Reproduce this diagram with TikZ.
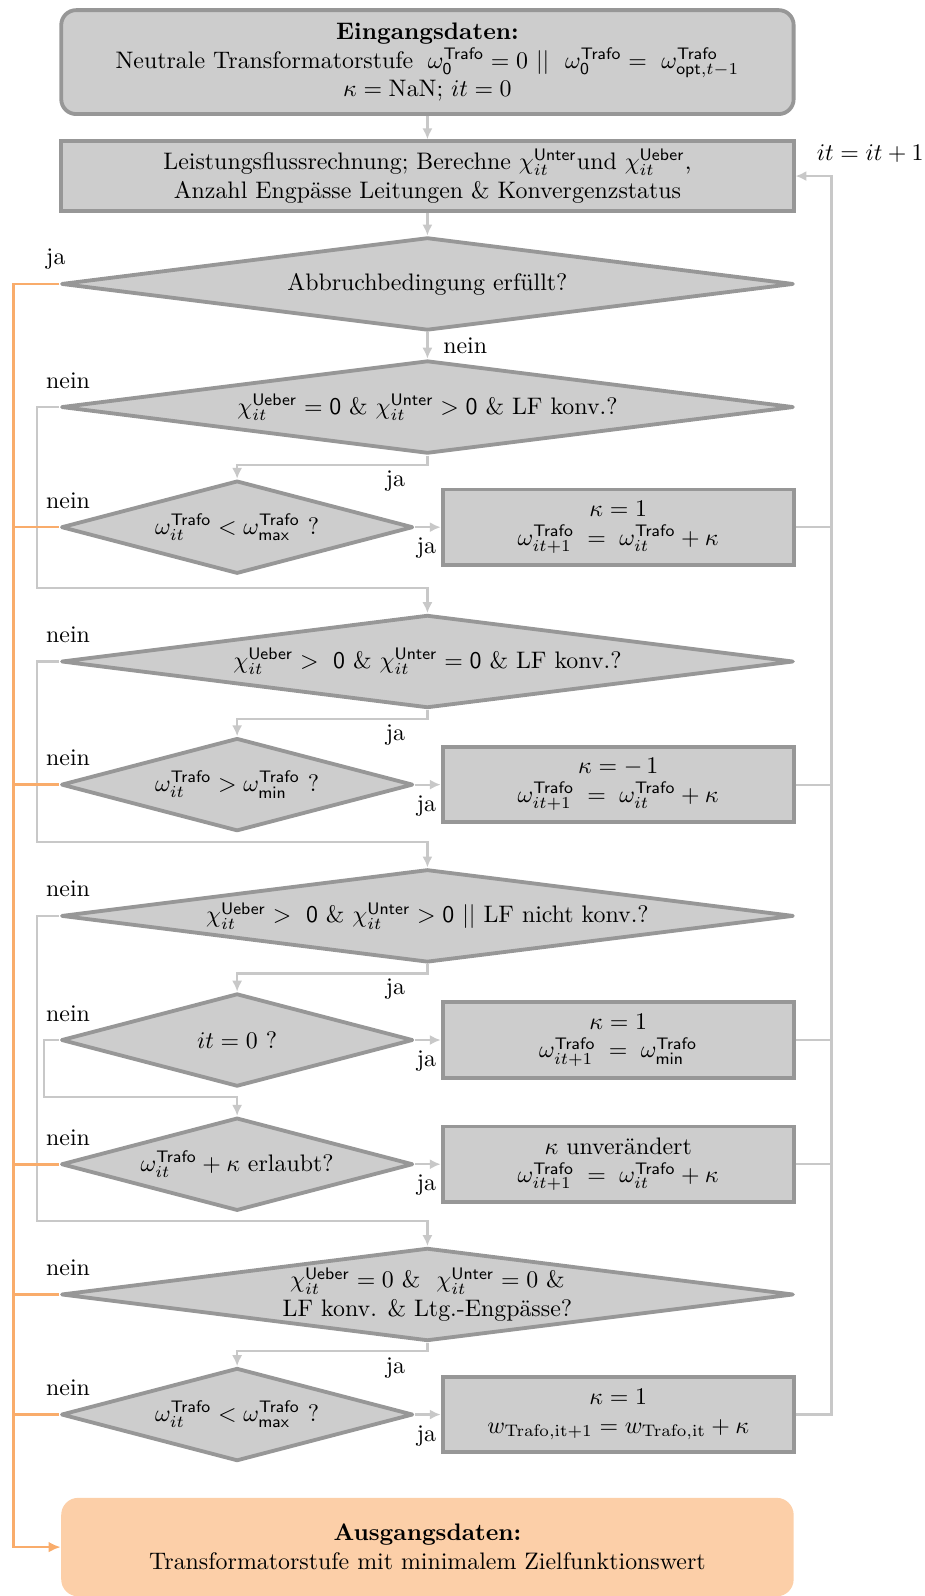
\documentclass[tikz,border=0pt]{standalone}
\usepackage{amsmath}
\usetikzlibrary{shapes.geometric,arrows.meta}
\definecolor{boxfill}{HTML}{CDCDCD}
\definecolor{boxline}{HTML}{979797}
\definecolor{conline}{HTML}{C8C8C8}
\definecolor{orangeline}{HTML}{F9AC6B}
\definecolor{outfill}{HTML}{FCCFA8}
\tikzset{
	startbox/.style={rectangle, rounded corners=0.22cm, draw=boxline, line width=1.6pt, fill=boxfill, minimum width=10.78cm, minimum height=1.53cm, align=center},
	procbox/.style={rectangle, draw=boxline, line width=1.6pt, fill=boxfill, minimum width=5.17cm, minimum height=1.11cm, align=center},
	bigcond/.style={diamond, draw=boxline, line width=1.6pt, line join=round, fill=boxfill, minimum width=10.78cm, minimum height=1.37cm, inner sep=0pt},
	smallcond/.style={bigcond, minimum width=5.18cm},
	endbox/.style={rectangle, rounded corners=0.25cm, fill=outfill, minimum width=10.78cm, minimum height=1.45cm, align=center},
	conn/.style={draw=conline, line width=0.9pt, -{Latex[length=1.6mm,width=1.5mm]}},
	nolink/.style={draw=conline, line width=0.9pt},
	outlink/.style={draw=orangeline, line width=1.1pt},
	leftlbl/.style={anchor=base west, inner sep=0pt, xshift=-0.2cm, yshift=0.28cm},
	rightlbl/.style={anchor=base west, inner sep=0pt, xshift=0.02cm, yshift=-0.39cm},
	lowlbl/.style={anchor=base west, inner sep=0pt, xshift=-0.62cm, yshift=-0.45cm}
}
\begin{document}
\begin{tikzpicture}
	\useasboundingbox (0,0) rectangle (13.6,-23.49);
	\coordinate (ol) at (0.195,0);
	\coordinate (loop) at (12.237,-2.591);

	\node[startbox] (ein) at (6.291,-0.914) {\textbf{Eingangsdaten:}\\Neutrale Transformatorstufe $\;\omega_{\mathsf{0}}^{\mathsf{Trafo}} = 0\ ||\ \ \omega_{\mathsf{0}}^{\mathsf{Trafo}} =\ \omega_{\mathsf{opt},t-1}^{\mathsf{Trafo}}$\\$\kappa = \mathrm{NaN}$; $it = 0$};
	\node[procbox, minimum width=10.78cm, minimum height=0.96cm] (lf) at (6.291,-2.591) {Leistungsflussrechnung; Berechne $\chi_{it}^{\mathsf{Unter}}$und $\chi_{it}^{\mathsf{Ueber}}$,\\Anzahl Engp\"asse Leitungen \& Konvergenzstatus};

	\node[bigcond, label={center:Abbruchbedingung erf\"ullt?}] (d1) at (6.291,-4.179) {};
	\node[bigcond, label={center:{$\chi_{it}^{\mathsf{Ueber}} = \mathsf{0}$ \& $\chi_{it}^{\mathsf{Unter}} > \mathsf{0}$ \& LF konv.?}}] (d2) at (6.291,-5.991) {};
	\node[smallcond, label={center:{$\omega_{it}^{\mathsf{Trafo}} < \omega_{\mathsf{max}}^{\mathsf{Trafo}}$ ?}}] (d3) at (3.490,-7.759) {};
	\node[procbox] (b1) at (9.099,-7.759) {$\kappa = 1$\\$\omega_{it+1}^{\mathsf{Trafo}} \;=\; \omega_{it}^{\mathsf{Trafo}} + \kappa$};
	\node[bigcond, label={center:{$\chi_{it}^{\mathsf{Ueber}} >\ \mathsf{0}$ \& $\chi_{it}^{\mathsf{Unter}} = \mathsf{0}$ \& LF konv.?}}] (d4) at (6.291,-9.736) {};
	\node[smallcond, label={center:{$\omega_{it}^{\mathsf{Trafo}} > \omega_{\mathsf{min}}^{\mathsf{Trafo}}$ ?}}] (d5) at (3.490,-11.548) {};
	\node[procbox] (b2) at (9.099,-11.548) {$\kappa = -\,1$\\$\omega_{it+1}^{\mathsf{Trafo}} \;=\; \omega_{it}^{\mathsf{Trafo}} + \kappa$};
	\node[bigcond, label={center:{$\chi_{it}^{\mathsf{Ueber}} >\ \mathsf{0}$ \& $\chi_{it}^{\mathsf{Unter}} > \mathsf{0}$ || LF nicht konv.?}}] (d6) at (6.291,-13.480) {};
	\node[smallcond, label={center:{$it = 0$ ?}}] (d7) at (3.490,-15.307) {};
	\node[procbox] (b3) at (9.099,-15.307) {$\kappa = 1$\\$\omega_{it+1}^{\mathsf{Trafo}} \;=\; \omega_{\mathsf{min}}^{\mathsf{Trafo}}$};
	\node[smallcond, label={center:{$\omega_{it}^{\mathsf{Trafo}} + \kappa$ erlaubt?}}] (d8) at (3.490,-17.135) {};
	\node[procbox] (b4) at (9.099,-17.135) {$\kappa$ unver\"andert\\$\omega_{it+1}^{\mathsf{Trafo}} \;=\; \omega_{it}^{\mathsf{Trafo}} + \kappa$};
	\node[bigcond, label={[align=center]center:{$\chi_{it}^{\mathsf{Ueber}} = 0$ \&\ \ $\chi_{it}^{\mathsf{Unter}} = 0$ \&\\LF konv. \& Ltg.-Engp\"asse?}}] (d9) at (6.291,-19.052) {};
	\node[smallcond, label={center:{$\omega_{it}^{\mathsf{Trafo}} < \omega_{\mathsf{max}}^{\mathsf{Trafo}}$ ?}}] (d10) at (3.490,-20.819) {};
	\node[procbox] (b5) at (9.099,-20.819) {$\kappa = 1$\\$w_{\mathrm{Trafo,it+1}} = w_{\mathrm{Trafo,it}} + \kappa$};
	\node[endbox] (aus) at (6.291,-22.77) {\textbf{Ausgangsdaten:}\\Transformatorstufe mit minimalem Zielfunktionswert};

	\draw[conn] (ein) -- (lf);
	\draw[conn] (lf) -- (d1);
	\draw[conn] (d1) -- (d2) node[midway, right, xshift=0.1cm] (nein1) {nein};
	\draw[conn] (d2.south) -- ++(0,-0.135) -| (d3.north);
	\draw[conn] (d3) -- (b1);
	\draw[conn] (d2.west) -- ++(-0.33,0) |- ([yshift=0.37cm]d4.north) -- (d4.north);
	\draw[conn] (d4.south) -- ++(0,-0.135) -| (d5.north);
	\draw[conn] (d5) -- (b2);
	\draw[conn] (d4.west) -- ++(-0.33,0) |- ([yshift=0.37cm]d6.north) -- (d6.north);
	\draw[conn] (d6.south) -- ++(0,-0.135) -| (d7.north);
	\draw[conn] (d7) -- (b3);
	\draw[conn] (d7.west) -- ++(-0.225,0) |- ([yshift=0.28cm]d8.north) -- (d8.north);
	\draw[conn] (d8) -- (b4);
	\draw[conn] (d6.west) -- ++(-0.33,0) |- ([yshift=0.37cm]d9.north) -- (d9.north);
	\draw[conn] (d9.south) -- ++(0,-0.12) -| (d10.north);
	\draw[conn] (d10) -- (b5);

	\draw[conn] (b5.east) -| (loop) -- (lf.east);
	\draw[nolink] (b1.east) -- (b1.east -| loop);
	\draw[nolink] (b2.east) -- (b2.east -| loop);
	\draw[nolink] (b3.east) -- (b3.east -| loop);
	\draw[nolink] (b4.east) -- (b4.east -| loop);
	\node[anchor=base west] (itinc) at (11.9,-2.36) {$it = it + 1$};

	\draw[outlink, -{Latex[length=1.8mm,width=1.6mm]}] (d1.west) -| (ol |- aus.west) -- (aus.west);
	\draw[outlink] (d3.west) -- (d3.west -| ol);
	\draw[outlink] (d5.west) -- (d5.west -| ol);
	\draw[outlink] (d8.west) -- (d8.west -| ol);
	\draw[outlink] (d9.west) -- (d9.west -| ol);
	\draw[outlink] (d10.west) -- (d10.west -| ol);

	\node[leftlbl] (ja1) at (d1.west) {ja};
	\node[leftlbl] (nein2) at (d2.west) {nein};
	\node[leftlbl] (nein3) at (d3.west) {nein};
	\node[leftlbl] (nein4) at (d4.west) {nein};
	\node[leftlbl] (nein5) at (d5.west) {nein};
	\node[leftlbl] (nein6) at (d6.west) {nein};
	\node[leftlbl] (nein7) at (d7.west) {nein};
	\node[leftlbl] (nein8) at (d8.west) {nein};
	\node[leftlbl] (nein9) at (d9.west) {nein};
	\node[leftlbl] (nein10) at (d10.west) {nein};
	\node[lowlbl] (ja2) at (d2.south) {ja};
	\node[lowlbl] (ja4) at (d4.south) {ja};
	\node[lowlbl] (ja6) at (d6.south) {ja};
	\node[lowlbl] (ja9) at (d9.south) {ja};
	\node[rightlbl] (ja3) at (d3.east) {ja};
	\node[rightlbl] (ja5) at (d5.east) {ja};
	\node[rightlbl] (ja7) at (d7.east) {ja};
	\node[rightlbl] (ja8) at (d8.east) {ja};
	\node[rightlbl] (ja10) at (d10.east) {ja};
\end{tikzpicture}
\end{document}
